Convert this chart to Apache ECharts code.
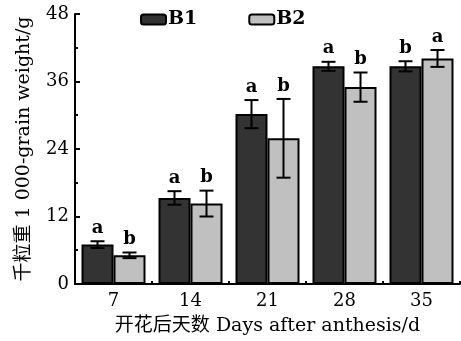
<!DOCTYPE html>
<html><head><meta charset="utf-8">
<style>html,body{margin:0;padding:0;background:#fff}#c{width:461px;height:341px}</style>
<script src="https://cdn.jsdelivr.net/npm/echarts@6/dist/echarts.min.js"></script>
</head><body><div id="c"></div>
<script>
var categories = ['7', '14', '21', '28', '35'];
var b1Values = [7.0, 15.3, 30.2, 38.7, 38.7];
var b1Errors = [0.6, 1.2, 2.5, 0.8, 0.9];
var b1Letters = ['a', 'a', 'a', 'a', 'b'];
var b2Values = [5.1, 14.3, 25.9, 35.0, 40.1];
var b2Errors = [0.5, 2.3, 7.0, 2.6, 1.5];
var b2Letters = ['b', 'b', 'b', 'b', 'a'];
var yTicks = [0, 12, 24, 36, 48];

var BW = 32;
var serif = '"DejaVu Serif","Liberation Serif",serif';
var mixed = '"DejaVu Serif","Noto Sans CJK SC",serif';
var chart = echarts.init(document.getElementById('c'));

function errSeries(values, errs, letters, offset) {
  return {
    type: 'custom',
    z: 10,
    data: values.map(function (v, i) { return [i, v, errs[i]]; }),
    renderItem: function (params, api) {
      var i = api.value(0), v = api.value(1), e = api.value(2);
      var top = api.coord([i, v + e]);
      var bot = api.coord([i, v - e]);
      var x = top[0] + offset;
      var cap = 7;
      var st = { stroke: '#000', lineWidth: 2 };
      return {
        type: 'group',
        children: [
          { type: 'line', shape: { x1: x, y1: top[1], x2: x, y2: bot[1] }, style: st },
          { type: 'line', shape: { x1: x - cap, y1: top[1], x2: x + cap, y2: top[1] }, style: st },
          { type: 'line', shape: { x1: x - cap, y1: bot[1], x2: x + cap, y2: bot[1] }, style: st },
          { type: 'text', style: { text: letters[params.dataIndex], x: x, y: top[1] - 4, textAlign: 'center', textVerticalAlign: 'bottom', font: 'bold 18px ' + serif, fill: '#000' } }
        ]
      };
    }
  };
}

chart.setOption({
  animation: false,
  backgroundColor: '#fff',
  grid: { left: 75, right: 1, top: 14, bottom: 56 },
  legend: {
    data: ['B1', 'B2'],
    left: 135, top: 5,
    itemWidth: 25, itemHeight: 10, itemGap: 51,
    textStyle: { fontFamily: serif, fontWeight: 'bold', fontSize: 19, color: '#000', padding: [2, 0, 0, -3] }
  },
  xAxis: {
    type: 'category',
    data: categories,
    name: '开花后天数 Days after anthesis/d',
    nameLocation: 'middle',
    nameGap: 33,
    nameTextStyle: { fontFamily: mixed, fontSize: 19, color: '#000' },
    axisLine: { lineStyle: { color: '#000', width: 2 } },
    axisTick: { show: true, inside: true, length: 3, lineStyle: { color: '#000', width: 2 } },
    axisLabel: { fontFamily: serif, fontSize: 18, color: '#000', margin: 8 }
  },
  yAxis: {
    type: 'value',
    min: yTicks[0], max: yTicks[yTicks.length - 1], interval: 12,
    name: '千粒重 1 000-grain weight/g',
    nameLocation: 'middle',
    nameGap: 41,
    nameTextStyle: { fontFamily: mixed, fontSize: 19, color: '#000' },
    axisLine: { show: true, lineStyle: { color: '#000', width: 2 } },
    axisTick: { show: true, inside: true, length: 5, lineStyle: { color: '#000', width: 2 } },
    minorTick: { show: true, splitNumber: 2, length: 3, lineStyle: { color: '#000', width: 2 } },
    splitLine: { show: false },
    axisLabel: { fontFamily: serif, fontSize: 18, color: '#000', margin: 6 }
  },
  series: [
    { name: 'B1', type: 'bar', data: b1Values, barWidth: BW, barGap: '0%',
      itemStyle: { color: '#333333', borderColor: '#000', borderWidth: 2 } },
    { name: 'B2', type: 'bar', data: b2Values, barWidth: BW, barGap: '0%',
      itemStyle: { color: '#c0c0c0', borderColor: '#000', borderWidth: 2 } },
    errSeries(b1Values, b1Errors, b1Letters, -BW / 2),
    errSeries(b2Values, b2Errors, b2Letters, BW / 2)
  ]
});
</script></body></html>
